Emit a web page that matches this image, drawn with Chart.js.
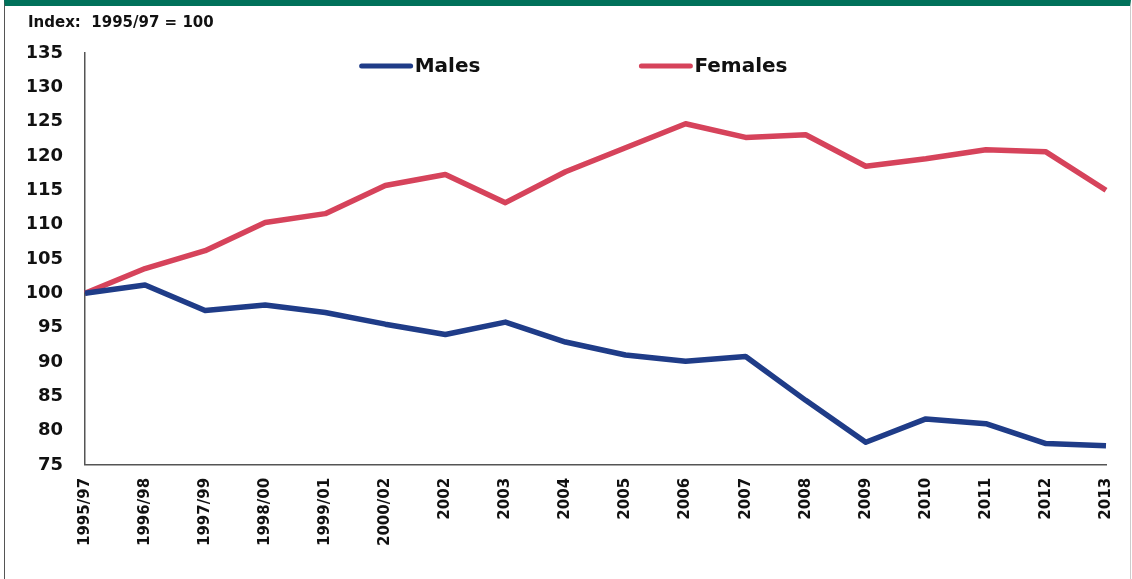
<!DOCTYPE html>
<html>
<head>
<meta charset="utf-8">
<script src="https://cdn.jsdelivr.net/npm/chart.js@4/dist/chart.umd.min.js"></script>
<style>
  html, body { margin: 0; padding: 0; background: #fff; }
  .frame {
    position: absolute; left: 4px; top: 0; width: 1127px; height: 579px;
    border-top: 6px solid #00715a;
    border-left: 1px solid #555;
    border-right: 1px solid #ccc;
    box-sizing: border-box;
  }
  .wrap { position: absolute; left: 0; top: 0; width: 1125px; height: 573px; }
</style>
</head>
<body>
<div class="frame">
  <div class="wrap"><canvas id="myChart"></canvas></div>
</div>
<script>
// years on the x axis
const labels = ["1995/97", "1996/98", "1997/99", "1998/00", "1999/01", "2000/02", "2002", "2003",
  "2004", "2005", "2006", "2007", "2008", "2009", "2010", "2011", "2012", "2013"];
const males = [100, 101.2, 97.5, 98.3, 97.2, 95.5, 94.0, 95.8, 92.9, 91.0, 90.1, 90.8, 84.4, 78.3, 81.7, 81.0, 78.1, 77.8];
const females = [100, 103.6, 106.2, 110.3, 111.6, 115.7, 117.3, 113.2, 117.7, 121.2, 124.7, 122.7, 123.1, 118.5, 119.6, 120.9, 120.6, 115.0];
const yMin = 75, yMax = 135, yStep = 5;

const FONT = "'DejaVu Sans', Verdana, sans-serif";

// legend drawn inside the plot, line samples with round caps
const insideLegend = {
    id: "insideLegend",
    afterDraw(chart) {
        const { ctx, chartArea } = chart;
        const spots = [0.269, 0.543]; // fraction of plot width where each sample starts
        ctx.save();
        ctx.font = "bold 20px " + FONT;
        ctx.textBaseline = "middle";
        ctx.fillStyle = "#111";
        chart.data.datasets.forEach((ds, i) => {
            const x = chartArea.left + spots[i] * (chartArea.right - chartArea.left);
            const y = chartArea.top + 13;
            ctx.strokeStyle = ds.borderColor;
            ctx.lineWidth = 5;
            ctx.lineCap = "round";
            ctx.beginPath();
            ctx.moveTo(x + 2, y);
            ctx.lineTo(x + 51, y);
            ctx.stroke();
            ctx.fillText(ds.label, x + 55, y + 1);
        });
        ctx.restore();
    }
};

const myChartRef = document.getElementById("myChart").getContext("2d");
new Chart(myChartRef, {
    type: "line",
    data: {
        labels: labels,
        datasets: [
            { label: "Males", data: males, borderColor: "#1f3c88", backgroundColor: "#1f3c88",
              borderWidth: 5.5, pointRadius: 0, tension: 0, borderJoinStyle: "round", borderCapStyle: "butt" },
            { label: "Females", data: females, borderColor: "#d6435b", backgroundColor: "#d6435b",
              borderWidth: 5.5, pointRadius: 0, tension: 0, borderJoinStyle: "round", borderCapStyle: "butt" }
        ]
    },
    options: {
        responsive: true,
        maintainAspectRatio: false,
        animation: false,
        layout: { padding: { left: 23, right: 24, top: 6, bottom: 20 } },
        plugins: {
            title: {
                display: true, text: "Index:  1995/97 = 100", align: "start", color: "#111",
                font: { family: FONT, size: 15, weight: "bold" },
                padding: { top: 2, bottom: 21 }
            },
            legend: { display: false },
            tooltip: { enabled: false }
        },
        scales: {
            x: {
                offset: false,
                grid: { display: false, drawTicks: false },
                border: { color: "#555", width: 1.5 },
                afterFit(scale) { scale.paddingRight = 0; scale.paddingLeft = 0; },
                ticks: {
                    color: "#111", minRotation: 90, maxRotation: 90, padding: 13,
                    font: { family: FONT, size: 15, weight: "bold" }
                }
            },
            y: {
                min: yMin, max: yMax,
                grid: { display: false, drawTicks: false },
                border: { color: "#555", width: 1.5 },
                afterFit(scale) { scale.width = 57; },
                ticks: {
                    stepSize: yStep, color: "#111", padding: 22,
                    font: { family: FONT, size: 18, weight: "bold" }
                }
            }
        }
    },
    plugins: [insideLegend]
});
</script>
</body>
</html>
